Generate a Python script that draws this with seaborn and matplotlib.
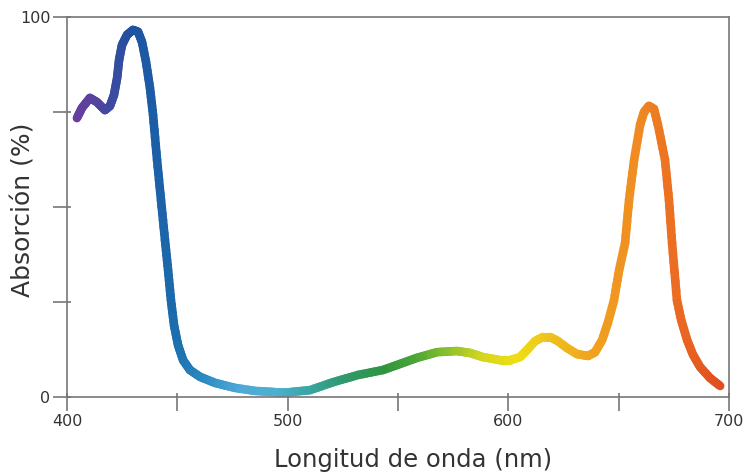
import numpy as np
import pandas as pd
import matplotlib
matplotlib.use("Agg")
import matplotlib.pyplot as plt
from matplotlib.colors import LinearSegmentedColormap
import seaborn as sns

# Absorption spectrum of chlorophyll (wavelength in nm, absorption in %)
wavelength_nm = [
    404.5, 406.8, 410.4, 413.6, 417.2, 419.5, 421.3, 422.7, 423.6, 424.9,
    427.2, 429.9, 432.2, 434.0, 435.8, 437.6, 439.0, 440.8, 442.6, 444.4,
    445.8, 447.1, 448.5, 450.3, 452.6, 455.7, 460.3, 467.1, 476.1, 485.2,
    494.3, 501.1, 510.1, 520.6, 531.9, 543.2, 550.9, 558.6, 567.7, 576.7,
    582.6, 588.5, 596.3, 600.8, 605.3, 608.5, 612.1, 615.7, 618.9, 622.5,
    626.6, 631.1, 636.1, 639.3, 642.5, 645.2, 647.9, 650.2, 652.9, 654.7,
    657.0, 659.7, 661.5, 663.7, 666.0, 667.8, 671.0, 672.8, 674.2, 676.4,
    678.3, 681.0, 683.7, 686.9, 691.4, 696.0,
]
absorption_pct = [
    73.4, 76.1, 78.7, 77.6, 75.5, 76.6, 79.5, 83.9, 88.7, 92.6,
    95.3, 96.6, 96.1, 93.4, 88.2, 81.3, 74.2, 62.4, 51.8, 41.3,
    33.4, 25.5, 18.9, 13.7, 9.7, 7.1, 5.3, 3.7, 2.4, 1.6,
    1.3, 1.3, 1.8, 3.9, 5.8, 7.1, 8.7, 10.3, 11.8, 12.1,
    11.6, 10.5, 9.7, 9.7, 10.5, 12.4, 14.7, 15.8, 15.8, 14.7,
    12.9, 11.3, 10.8, 11.8, 15.0, 19.7, 25.5, 33.4, 40.5, 51.8,
    62.4, 71.6, 75.0, 76.6, 75.8, 71.6, 62.4, 51.8, 40.5, 25.5,
    20.3, 15.0, 11.1, 7.9, 5.0, 2.9,
]

x_ticks = [400, 450, 500, 550, 600, 650, 700]
x_tick_labels = ["400", "", "500", "", "600", "", "700"]
y_ticks = [0, 25, 50, 75, 100]
y_tick_labels = ["0", "", "", "", "100"]

x_label = "Longitud de onda (nm)"
y_label = "Absorción (%)"

# visible-spectrum colours anchored at wavelengths
spectrum_stops = [
    (400, "#6e3c9e"), (412, "#5a42a0"), (420, "#3e4aa0"), (428, "#22509f"),
    (438, "#1c5ca6"), (450, "#1b70ae"), (465, "#2f8fc6"), (480, "#4fa9d8"),
    (495, "#4cb0cf"), (510, "#3ba6a6"), (525, "#2f9a72"), (545, "#2f9440"),
    (560, "#4ea636"), (575, "#8ec22e"), (590, "#d6d61e"), (605, "#eedf14"),
    (620, "#efc21e"), (640, "#f0a21f"), (660, "#ef8a22"), (675, "#ec6e22"),
    (700, "#de4a1e"),
]

sns.set_theme(style="white")
plt.rcParams["font.family"] = ["DejaVu Sans"]

spectrum = LinearSegmentedColormap.from_list(
    "spectrum", [((w - 400) / 300, c) for w, c in spectrum_stops]
)

# break the trace into short pieces so each one takes the colour of its wavelength
wl = np.asarray(wavelength_nm, dtype=float)
ab = np.asarray(absorption_pct, dtype=float)
rows = []
piece = 0
steps = 6
for i in range(len(wl) - 1):
    t = np.linspace(0, 1, steps + 1)
    xs = wl[i] + (wl[i + 1] - wl[i]) * t
    ys = ab[i] + (ab[i + 1] - ab[i]) * t
    for k in range(steps):
        mid = 0.5 * (xs[k] + xs[k + 1])
        rows.append((piece, xs[k], ys[k], mid))
        rows.append((piece, xs[k + 1], ys[k + 1], mid))
        piece += 1
df = pd.DataFrame(rows, columns=["piece", "nm", "pct", "hue_nm"])

fig = plt.figure(figsize=(7.49, 4.75), dpi=100)
ax = fig.add_axes([67 / 749, 78 / 475, 662 / 749, 380 / 475])

sns.lineplot(
    data=df, x="nm", y="pct", hue="hue_nm", units="piece",
    estimator=None, sort=False, palette=spectrum, hue_norm=(400, 700),
    legend=False, linewidth=6.2, solid_capstyle="round", ax=ax,
)

ax.set_xlim(400, 700)
ax.set_ylim(0, 100)

spine_col = "#777777"
for s in ax.spines.values():
    s.set_visible(True)
    s.set_color(spine_col)
    s.set_linewidth(1.2)

ax.set_xticks(x_ticks)
ax.set_xticklabels(x_tick_labels)
ax.set_yticks(y_ticks)
ax.set_yticklabels(y_tick_labels)
ax.tick_params(which="major", direction="out", length=10, width=1.2,
               color=spine_col, labelsize=11.5, labelcolor="#333333", pad=2)

# short inner stubs so the ticks cross the axis lines
ax.xaxis.remove_overlapping_locs = False
ax.yaxis.remove_overlapping_locs = False
ax.set_xticks(x_ticks, minor=True)
ax.set_yticks(y_ticks, minor=True)
ax.tick_params(which="minor", direction="in", length=3, width=1.2, color=spine_col)
ax.tick_params(axis="x", which="both", bottom=True, top=False)
ax.tick_params(axis="y", which="both", left=True, right=False)

ax.set_xlabel("")
ax.set_ylabel("")
fig.text(413 / 749, 1 - 467 / 475, x_label, ha="center", va="baseline",
         fontsize=17.5, color="#333333")
fig.text(24 / 749, 1 - 210 / 475, y_label, ha="center", va="center",
         rotation=90, fontsize=18, color="#333333")

fig.savefig("out.png", dpi=100)
